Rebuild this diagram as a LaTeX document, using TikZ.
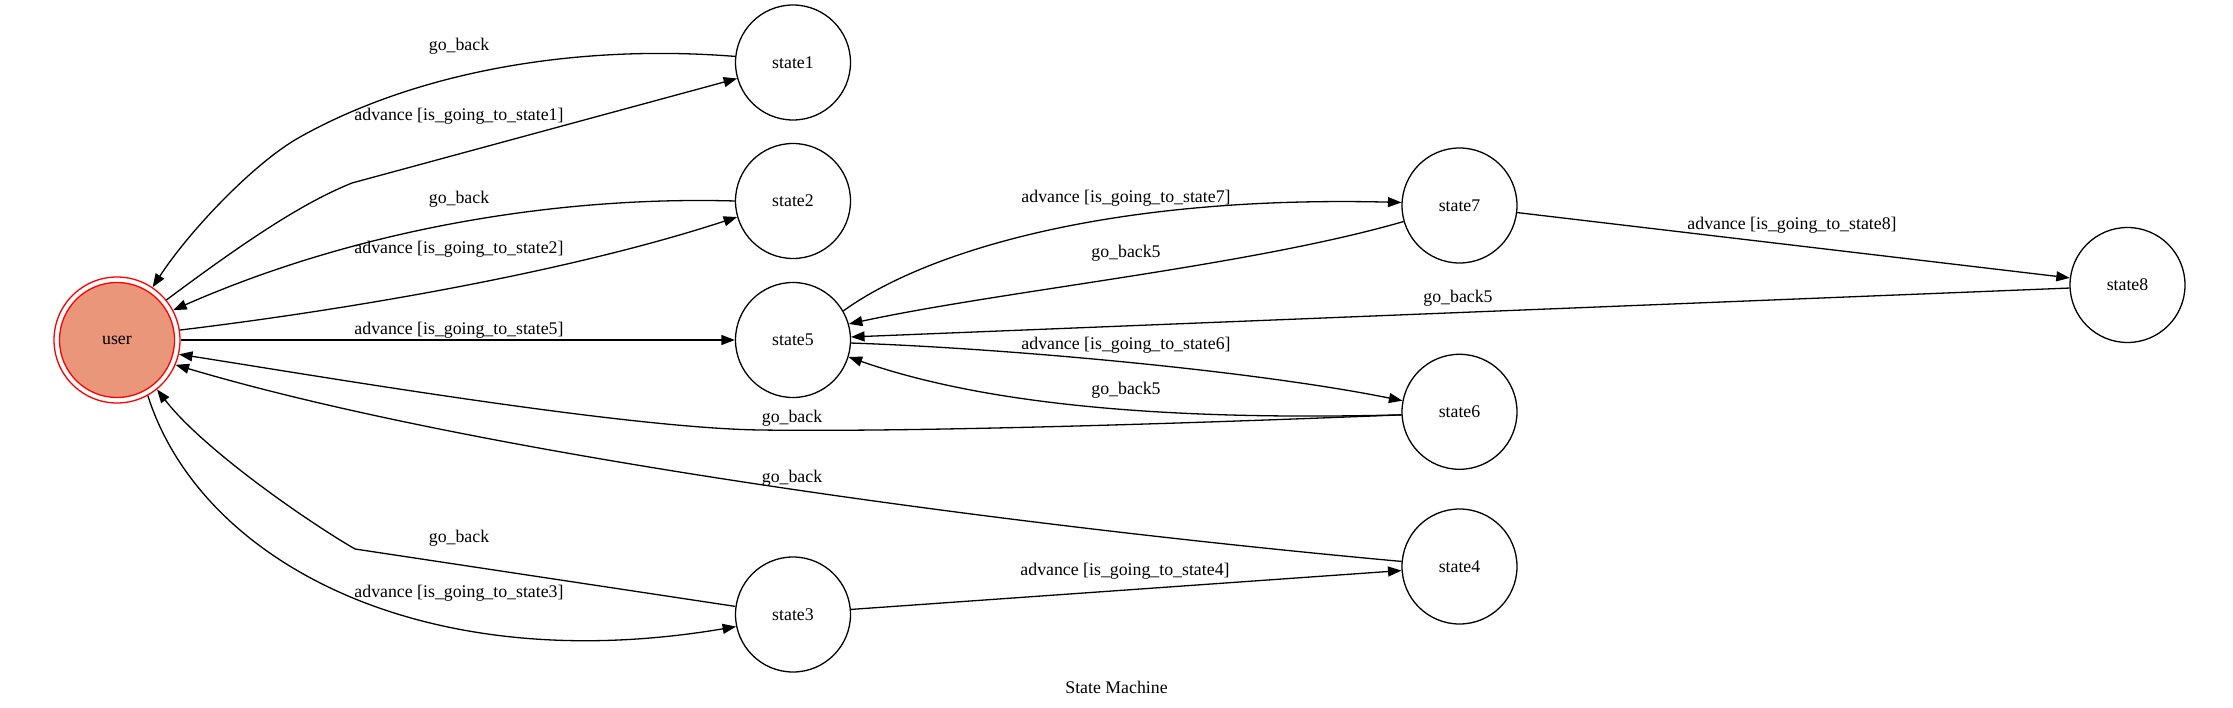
\documentclass[tikz,border=0pt]{standalone}
\usepackage{fontspec}
\setmainfont{Liberation Serif}
\usetikzlibrary{arrows.meta}
\definecolor{dsalmon}{RGB}{233,150,122}
\begin{document}
\begin{tikzpicture}[x=1pt,y=-1pt,
  every node/.style={font=\fontsize{17.8}{21}\selectfont},
  st/.style={circle,draw,line width=1.3pt,minimum size=115pt,inner sep=0pt},
  tr/.style={line width=1.3pt,-{Triangle[length=13.5pt,width=10pt]}},
  lbl/.style={inner sep=0pt}]
\useasboundingbox (0,0) rectangle (2233,708);
% nodes
\node[circle,draw=red,line width=1.3pt,minimum size=126pt,inner sep=0pt] (user) at (117,340) {};
\node[circle,draw=red,fill=dsalmon,line width=1.3pt,minimum size=115pt,inner sep=0pt] (userin) at (user.center) {user};
\node[st] (s1) at (793,62.5) {state1};
\node[st] (s2) at (793,201) {state2};
\node[st] (s5) at (793,340) {state5};
\node[st] (s3) at (793,614.5) {state3};
\node[st] (s7) at (1459.5,205.5) {state7};
\node[st] (s6) at (1459.5,411.8) {state6};
\node[st] (s4) at (1459.5,566.5) {state4};
\node[st] (s8) at (2127.5,285) {state8};
% edges
\draw[tr] (user.39) .. controls (260,230) and (310,200) .. (352,183) -- (s1.196);
\draw[tr] (s1.174) .. controls (580,44) and (420,70) .. (300,137) .. controls (255,162) and (190,230) .. (user.56);
\draw[tr] (user.9) .. controls (330,312) and (560,275) .. (s2.196);
\draw[tr] (s2.180) .. controls (560,196) and (360,228) .. (user.28);
\draw[tr] (user.east) -- (s5.west);
\draw[tr] (s6.183) .. controls (1150,425) and (900,432) .. (760,430) .. controls (620,428) and (300,373) .. (user.347);
\draw[tr] (s4.175) .. controls (1002,525) and (475,454) .. (user.337);
\draw[tr] (s3.172) -- (355,549) .. controls (305,520) and (202,448) .. (user.309);
\draw[tr] (user.299) .. controls (200,560) and (420,680) .. (s3.192);
\draw[tr] (s3.5) -- (s4.184);
\draw[tr] (s5.30) .. controls (920,255) and (1100,195) .. (s7.177);
\draw[tr] (s7.196) .. controls (1250,266) and (1001,291) .. (s5.16);
\draw[tr] (s8.183) -- (s5.3);
\draw[tr] (s5.357) .. controls (1000,348) and (1250,370) .. (s6.169);
\draw[tr] (s6.183) .. controls (1200,420) and (1000,410) .. (s5.343);
\draw[tr] (s7.353) -- (s8.173);
% labels
\node[lbl] (l1) at (459,116) {advance [is\_going\_to\_state1]};
\node[lbl] (l2) at (459,46) {go\_back};
\node[lbl] (l3) at (459,249) {advance [is\_going\_to\_state2]};
\node[lbl] (l4) at (459,199) {go\_back};
\node[lbl] (l5) at (459,330) {advance [is\_going\_to\_state5]};
\node[lbl] (l6) at (792,418) {go\_back};
\node[lbl] (l7) at (792,478) {go\_back};
\node[lbl] (l8) at (459,538) {go\_back};
\node[lbl] (l9) at (459,593) {advance [is\_going\_to\_state3]};
\node[lbl] (l10) at (1125,571) {advance [is\_going\_to\_state4]};
\node[lbl] (l11) at (1126,198) {advance [is\_going\_to\_state7]};
\node[lbl] (l12) at (1126,253) {go\_back5};
\node[lbl] (l13) at (1458,298) {go\_back5};
\node[lbl] (l14) at (1126,345) {advance [is\_going\_to\_state6]};
\node[lbl] (l15) at (1126,390) {go\_back5};
\node[lbl] (l16) at (1792,225) {advance [is\_going\_to\_state8]};
\node (title) at (1116.5,687) {State Machine};
\end{tikzpicture}
\end{document}
